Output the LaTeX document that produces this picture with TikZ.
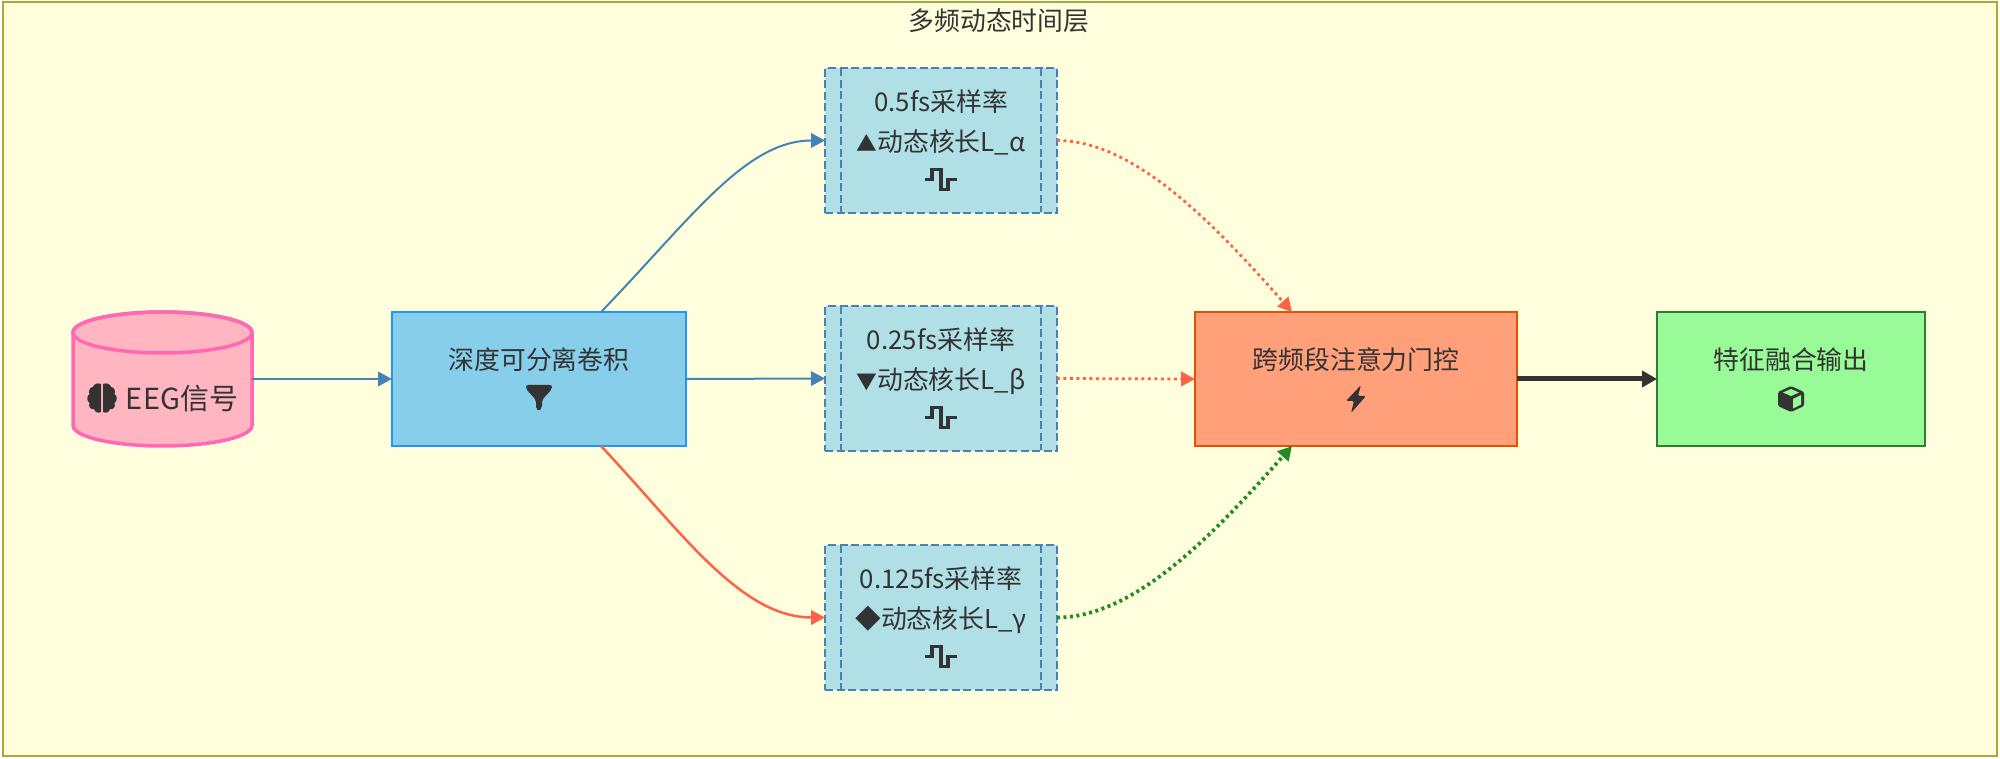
\documentclass[tikz,border=0pt]{standalone}
\usepackage{fontspec}
\setmainfont{Noto Sans CJK SC}
\usetikzlibrary{arrows.meta}

\definecolor{layerbg}{HTML}{FFFFDE}
\definecolor{layerline}{HTML}{AAAA33}
\definecolor{eegfill}{HTML}{FFB6C1}
\definecolor{eegline}{HTML}{FF69B4}
\definecolor{deepfill}{HTML}{87CEEB}
\definecolor{deepline}{HTML}{2196F3}
\definecolor{freqfill}{HTML}{B0E0E6}
\definecolor{freqline}{HTML}{4682B4}
\definecolor{attnfill}{HTML}{FFA07A}
\definecolor{attnline}{HTML}{E65100}
\definecolor{outfill}{HTML}{98FB98}
\definecolor{outline}{HTML}{2E7D32}
\definecolor{tomatoline}{HTML}{FF6347}
\definecolor{greenline}{HTML}{228B22}
\definecolor{inkdark}{HTML}{333333}

\def\tailline{\rule{0pt}{1pt}}

\tikzset{
  txt/.style={text=inkdark,font=\fontsize{14.7}{22.8}\selectfont,align=center,inner sep=0pt},
  plainbox/.style={txt,draw,line width=0.05cm,outer sep=0pt,minimum height=2.68cm},
  freqdash/.style={freqline,line width=0.04cm,dash pattern=on 0.16cm off 0.07cm},
  freqbox/.style={txt,draw=freqline,fill=freqfill,line width=0.04cm,outer sep=0pt,
    minimum width=4.64cm,minimum height=2.9cm,dash pattern=on 0.16cm off 0.07cm},
  flow/.style={line width=0.04cm,-{Triangle[length=0.28cm,width=0.29cm]}},
  gate/.style={flow,line width=0.055cm,dash pattern=on 0.06cm off 0.07cm},
}

\begin{document}
\begin{tikzpicture}[x=0.02cm,y=-0.02cm]
    \useasboundingbox (0,0) rectangle (2000,759);

    % le cadre du groupe
    \draw[layerline,fill=layerbg,line width=0.04cm] (3,2) rectangle (1997,756);
    \node[txt] (title) at (999,21) {多频动态时间层};

    % entree
    \node[minimum width=3.58cm,minimum height=2.68cm,inner sep=0pt,outer sep=0pt] (eeg) at (162.5,379) {};
    \draw[eegline,fill=eegfill,line width=0.07cm] (73,332.5) -- (73,425.5)
      arc[start angle=180,end angle=0,x radius=89.5,y radius=20.5] -- (252,332.5)
      arc[start angle=0,end angle=-180,x radius=89.5,y radius=20.5] -- cycle;
    \draw[eegline,line width=0.07cm] (162.5,332.5) ellipse[x radius=89.5,y radius=20.5];
    \node[txt,font=\fontsize{16.5}{22.8}\selectfont] (eegtext) at (182,399) {EEG信号};
    \begin{scope}[shift={(102,398)}]
      \foreach \s in {-1,1} {
        \fill[inkdark,xscale=\s] (1,-14) .. controls (5,-15.5) and (8,-14) .. (9,-11)
          .. controls (12,-11) and (14,-7) .. (12.5,-4) .. controls (15.5,-2) and (15.5,3) .. (12.5,5)
          .. controls (14,9) and (11,12) .. (8,11) .. controls (7,14.5) and (4,15.5) .. (1,14) -- cycle;
      }
    \end{scope}

    % convolution
    \node[plainbox,draw=deepline,fill=deepfill,minimum width=5.88cm] (deep) at (539,379) {深度可分离卷积\\ \tailline};
    \begin{scope}[shift={(539,398)}]
      \fill[inkdark,rounded corners=1.2] (-13,-13) -- (13,-13) -- (13,-9) -- (3,2) -- (3,10) -- (0,13) -- (-3,11) -- (-3,2) -- (-13,-9) -- cycle;
    \end{scope}

    % les trois bandes
    \foreach \name/\y/\rate/\kernel in {
        alpha/140.5/0.5fs采样率/\scalebox{0.8}{▲}动态核长L\_α,
        beta/378.5/0.25fs采样率/\scalebox{0.8}{▼}动态核长L\_β,
        gamma/617.5/0.125fs采样率/◆动态核长L\_γ} {
      \node[freqbox] (\name) at (941,\y) {\rate\\ \kernel\\ \tailline};
      \draw[freqdash] (841,\y-72) -- (841,\y+72) (1041,\y-72) -- (1041,\y+72);
      \begin{scope}[shift={(941,\y+39)}]
        \draw[inkdark,line width=0.07cm] (-16,0) -- (-9,0) -- (-9,-10) -- (0,-10) -- (0,10) -- (7,10) -- (7,0) -- (16,0);
      \end{scope}
    }

    % la porte
    \node[plainbox,draw=attnline,fill=attnfill,minimum width=6.44cm] (attn) at (1356,379) {跨频段注意力门控\\ \tailline};
    \begin{scope}[shift={(1356,399)}]
      \fill[inkdark,rounded corners=0.8] (5,-14) -- (-10,2) -- (-2,2) -- (-5,14) -- (10,-3) -- (2,-3) -- cycle;
    \end{scope}

    % la sortie
    \node[plainbox,draw=outline,fill=outfill,minimum width=5.36cm] (out) at (1791,379) {特征融合输出\\ \tailline};
    \begin{scope}[shift={(1791,399)}]
      \fill[inkdark,rounded corners=0.8] (0,-13) -- (13,-7) -- (13,7) -- (0,13) -- (-13,7) -- (-13,-7) -- cycle;
      \fill[outfill] (0,-10) -- (8,-6.5) -- (0,-3) -- (-8,-6.5) -- cycle;
      \fill[outfill] (10,-4) -- (10,5.5) -- (2,9.5) -- (2,0) -- cycle;
    \end{scope}

    % points de sortie et d'arrivee
    \coordinate (deepup) at (601,312);
    \coordinate (deepdown) at (601,446);
    \coordinate (attnup) at (1292,312);
    \coordinate (attndown) at (1292,446);

    \draw[flow,freqline] (eeg.east) -- (deep.west);
    \draw[flow,freqline] (deepup) .. controls (690,220) and (745,140.5) .. (alpha.west);
    \draw[flow,freqline] (deep.east) -- (beta.west);
    \draw[flow,tomatoline,line width=0.05cm] (deepdown) .. controls (680,530) and (740,617.5) .. (gamma.west);

    \draw[gate,tomatoline] (alpha.east) .. controls (1135,140.5) and (1215,225) .. (attnup);
    \draw[gate,tomatoline] (beta.east) -- (attn.west);
    \draw[gate,greenline,line width=0.075cm] (gamma.east) .. controls (1135,617.5) and (1215,533) .. (attndown);

    \draw[flow,inkdark,line width=0.1cm,-{Triangle[length=0.3cm,width=0.32cm]}] (attn.east) -- (out.west);
\end{tikzpicture}
\end{document}
